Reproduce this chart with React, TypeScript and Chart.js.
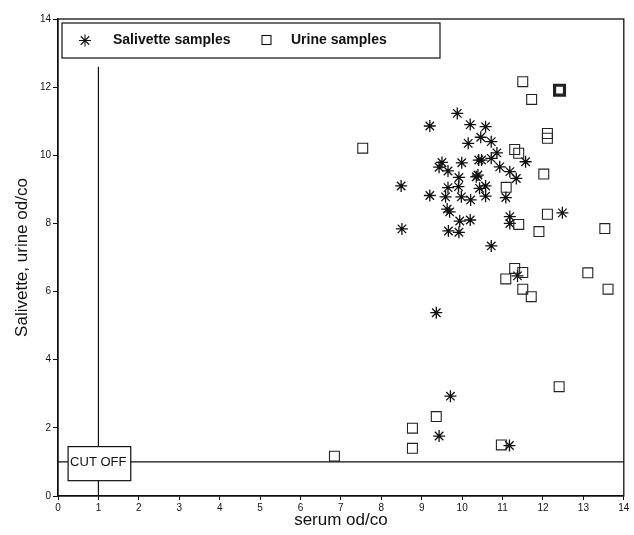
import React, { useEffect, useRef } from "react";
import { Chart, registerables } from "chart.js";

Chart.register(...registerables);

// ---- data ----
const salivetteX = [
  9.88, 9.2, 10.2, 10.15, 9.5, 9.43, 9.65, 9.99, 9.92, 9.91, 9.65, 8.49, 9.2, 9.59, 9.98, 10.21,
  9.63, 9.69, 9.94, 10.2, 8.51, 9.66, 9.92, 10.58, 10.46, 10.72, 10.86, 10.72, 10.48, 10.41,
  10.93, 11.57, 11.18, 11.34, 10.39, 10.35, 10.58, 10.43, 10.58, 11.08, 11.18, 11.18, 12.48,
  10.72, 11.37, 9.36, 9.71, 9.43, 11.17,
];
const salivetteY = [
  11.23, 10.86, 10.9, 10.35, 9.79, 9.65, 9.54, 9.78, 9.35, 9.08, 9.05, 9.1, 8.82, 8.78, 8.78, 8.69,
  8.42, 8.34, 8.07, 8.1, 7.84, 7.78, 7.74, 10.84, 10.53, 10.4, 10.07, 9.91, 9.86, 9.86,
  9.66, 9.81, 9.52, 9.32, 9.42, 9.37, 9.1, 9.03, 8.8, 8.76, 8.2, 8.0, 8.31,
  7.34, 6.46, 5.38, 2.93, 1.76, 1.48,
];
const urineX = [
  7.54, 11.5, 12.41, 11.72, 12.11, 12.11, 11.3, 11.4, 12.02, 11.09, 12.11, 11.4, 11.9, 13.53,
  11.3, 11.5, 11.08, 11.5, 11.71, 13.11, 13.61, 12.4, 9.36, 8.77, 8.77, 6.84, 10.97,
];
const urineY = [
  10.21, 12.16, 11.91, 11.64, 10.64, 10.5, 10.17, 10.06, 9.45, 9.06, 8.27, 7.97, 7.76, 7.85,
  6.68, 6.56, 6.37, 6.07, 5.85, 6.55, 6.07, 3.21, 2.33, 1.99, 1.4, 1.17, 1.5,
];
// index of the square drawn with a heavy outline
const urineHeavy = [2];

const xTicks = [0, 1, 2, 3, 4, 5, 6, 7, 8, 9, 10, 11, 12, 13, 14];
const yTicks = [0, 2, 4, 6, 8, 10, 12, 14];
const cutOff = 1;
const cutOffLineTop = 12.6;
const legendLabels = ["Salivette samples", "Urine samples"];

const FONT = "'Liberation Sans', Arial, Helvetica, sans-serif";

const overlayPlugin = {
  id: "overlay",
  beforeDatasetsDraw(chart: any) {
    const { ctx, scales } = chart;
    const x = scales.x;
    const y = scales.y;
    ctx.save();
    ctx.strokeStyle = "#111";
    ctx.lineWidth = 1.2;
    ctx.beginPath();
    ctx.moveTo(x.getPixelForValue(xTicks[0]), y.getPixelForValue(cutOff));
    ctx.lineTo(x.getPixelForValue(xTicks[xTicks.length - 1]), y.getPixelForValue(cutOff));
    ctx.stroke();
    ctx.beginPath();
    ctx.moveTo(x.getPixelForValue(cutOff), y.getPixelForValue(0));
    ctx.lineTo(x.getPixelForValue(cutOff), y.getPixelForValue(cutOffLineTop));
    ctx.stroke();
    ctx.restore();
  },
  afterDatasetsDraw(chart: any) {
    const { ctx, chartArea, scales } = chart;
    const x = scales.x;
    const y = scales.y;
    ctx.save();
    ctx.strokeStyle = "#111";
    ctx.lineWidth = 1.3;
    ctx.strokeRect(chartArea.left, chartArea.top, chartArea.right - chartArea.left, chartArea.bottom - chartArea.top);

    // CUT OFF box
    const bx0 = x.getPixelForValue(0.25);
    const bx1 = x.getPixelForValue(1.8);
    const by0 = y.getPixelForValue(1.45);
    const by1 = y.getPixelForValue(0.45);
    ctx.fillStyle = "#fff";
    ctx.fillRect(bx0, by0, bx1 - bx0, by1 - by0);
    ctx.lineWidth = 1.2;
    ctx.strokeRect(bx0, by0, bx1 - bx0, by1 - by0);
    ctx.fillStyle = "#111";
    ctx.font = `13px ${FONT}`;
    ctx.textBaseline = "middle";
    ctx.textAlign = "left";
    ctx.fillText("CUT OFF", bx0 + 2, y.getPixelForValue(cutOff));

    // legend box
    const lx0 = 62, lx1 = 440, ly0 = 23, ly1 = 58;
    const lc = (ly0 + ly1) / 2;
    ctx.fillStyle = "#fff";
    ctx.fillRect(lx0, ly0, lx1 - lx0, ly1 - ly0);
    ctx.strokeStyle = "#111";
    ctx.lineWidth = 1.2;
    ctx.strokeRect(lx0, ly0, lx1 - lx0, ly1 - ly0);
    const ax = 85, r = 6;
    ctx.lineWidth = 1.1;
    ctx.beginPath();
    ctx.moveTo(ax - r, lc); ctx.lineTo(ax + r, lc);
    ctx.moveTo(ax, lc - r); ctx.lineTo(ax, lc + r);
    const d = r * Math.SQRT1_2;
    ctx.moveTo(ax - d, lc - d); ctx.lineTo(ax + d, lc + d);
    ctx.moveTo(ax - d, lc + d); ctx.lineTo(ax + d, lc - d);
    ctx.stroke();
    ctx.strokeRect(262, lc - 5, 9, 9);
    ctx.fillStyle = "#111";
    ctx.font = `bold 14px ${FONT}`;
    ctx.textBaseline = "middle";
    ctx.fillText(legendLabels[0], 113, lc);
    ctx.fillText(legendLabels[1], 291, lc);
    ctx.restore();
  },
};

export default function App() {
  const canvasRef = useRef<HTMLCanvasElement | null>(null);

  useEffect(() => {
    document.body.style.margin = "0";
    const canvas = canvasRef.current;
    if (!canvas) return;
    const salData = salivetteX.map((v, i) => ({ x: v, y: salivetteY[i] }));
    const urData = urineX.map((v, i) => ({ x: v, y: urineY[i] }));
    const chart = new Chart(canvas, {
      type: "scatter",
      data: {
        datasets: [
          {
            label: legendLabels[1],
            data: urData,
            pointStyle: "rect",
            pointRadius: 7,
            borderColor: "#222",
            backgroundColor: "rgba(0,0,0,0)",
            pointBorderWidth: urData.map((_, i) => (urineHeavy.includes(i) ? 3.2 : 1.1)) as any,
          },
          {
            label: legendLabels[0],
            data: salData,
            pointStyle: "star",
            pointRadius: 6,
            borderColor: "#111",
            backgroundColor: "#111",
            pointBorderWidth: 1.3,
          },
        ],
      },
      options: {
        animation: false,
        responsive: true,
        maintainAspectRatio: false,
        events: [],
        layout: { padding: { top: 19, right: -5, left: 0, bottom: 0 } },
        plugins: {
          legend: { display: false },
          tooltip: { enabled: false },
        },
        scales: {
          x: {
            type: "linear",
            min: xTicks[0],
            max: xTicks[xTicks.length - 1],
            afterFit: (s: any) => { s.height = 39; s.paddingRight = 0; s.paddingLeft = 0; },
            afterBuildTicks: (s: any) => { s.ticks = xTicks.map((v) => ({ value: v })); },
            grid: { display: true, drawOnChartArea: false, tickLength: 4, color: "#111" },
            border: { display: true, color: "#111", width: 1.3 },
            ticks: { color: "#111", font: { family: FONT, size: 10 }, padding: 2, maxRotation: 0 },
            title: {
              display: true,
              text: "serum od/co",
              color: "#111",
              font: { family: FONT, size: 17 },
              padding: { top: 0, bottom: 4 },
            },
          },
          y: {
            type: "linear",
            min: yTicks[0],
            max: yTicks[yTicks.length - 1],
            afterFit: (s: any) => { s.width = 58; s.paddingTop = 0; s.paddingBottom = 0; },
            afterBuildTicks: (s: any) => { s.ticks = yTicks.map((v) => ({ value: v })); },
            grid: { display: true, drawOnChartArea: false, tickLength: 5, color: "#111" },
            border: { display: true, color: "#111", width: 1.3 },
            ticks: { color: "#111", font: { family: FONT, size: 10 }, padding: 2 },
            title: {
              display: true,
              text: "Salivette, urine od/co",
              color: "#111",
              font: { family: FONT, size: 17 },
              padding: { top: 12, bottom: 0 },
            },
          },
        },
      },
      plugins: [overlayPlugin],
    });
    return () => chart.destroy();
  }, []);

  return (
    <div style={{ position: "fixed", left: 0, top: 0, width: 634, height: 535, background: "#fff" }}>
      <canvas ref={canvasRef} />
    </div>
  );
}
